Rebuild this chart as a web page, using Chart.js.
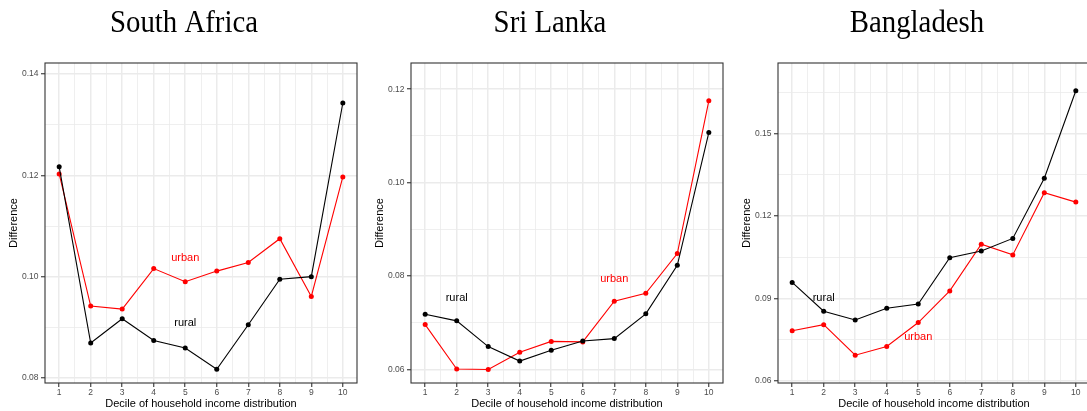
<!DOCTYPE html>
<html>
<head>
<meta charset="utf-8">
<title>Difference by decile of household income distribution</title>
<script src="https://cdn.jsdelivr.net/npm/chart.js@4.4.1/dist/chart.umd.min.js"></script>
<style>
  html, body { margin: 0; padding: 0; background: #fff; }
  body { width: 1087px; height: 411px; overflow: hidden; position: relative; }
  canvas { position: absolute; top: 0; }
</style>
</head>
<body>
<canvas id="southAfricaChart" width="361" height="411" style="left:0px"></canvas>
<canvas id="sriLankaChart" width="361" height="411" style="left:366px"></canvas>
<canvas id="bangladeshChart" width="361" height="411" style="left:733px"></canvas>
<script>
'use strict';

// deciles (x axis tick labels)
const deciles = [1, 2, 3, 4, 5, 6, 7, 8, 9, 10];

// South Africa
const saRural = [0.1217, 0.0869, 0.0917, 0.0874, 0.0859, 0.0817, 0.0905, 0.0995, 0.1000, 0.1343];
const saUrban = [0.1203, 0.0942, 0.0936, 0.1016, 0.0990, 0.1011, 0.1028, 0.1075, 0.0961, 0.1197];

// Sri Lanka
const slRural = [0.0718, 0.0704, 0.0649, 0.0618, 0.0641, 0.0661, 0.0666, 0.0719, 0.0823, 0.1107];
const slUrban = [0.0696, 0.0601, 0.0600, 0.0637, 0.0660, 0.0659, 0.0746, 0.0763, 0.0848, 0.1175];

// Bangladesh
const bdRural = [0.0958, 0.0853, 0.0821, 0.0864, 0.0879, 0.1048, 0.1072, 0.1118, 0.1337, 0.1655];
const bdUrban = [0.0782, 0.0804, 0.0693, 0.0725, 0.0812, 0.0927, 0.1097, 0.1058, 0.1284, 0.1250];

Chart.defaults.font.family = '"Liberation Sans", Arial, Helvetica, sans-serif';
Chart.defaults.animation = false;

function isStep(v, step) {
  const r = v / step;
  return Math.abs(r - Math.round(r)) < 1e-6;
}

// panel border, text labels and the serif title
const panelDecor = {
  id: 'panelDecor',
  afterDatasetsDraw(chart, args, opts) {
    const ctx = chart.ctx, area = chart.chartArea;
    const xs = chart.scales.x, ys = chart.scales.y;
    ctx.save();
    ctx.strokeStyle = '#333333';
    ctx.lineWidth = 1.1;
    ctx.strokeRect(area.left, area.top, area.right - area.left, area.bottom - area.top);

    ctx.font = '11px "Liberation Sans", Arial, sans-serif';
    ctx.textAlign = 'center';
    ctx.textBaseline = 'middle';
    opts.notes.forEach(function(n) {
      ctx.fillStyle = n.color;
      ctx.fillText(n.text, xs.getPixelForValue(n.x), ys.getPixelForValue(n.y));
    });

    ctx.font = '32px "Liberation Serif", "Times New Roman", serif';
    ctx.fillStyle = '#000';
    ctx.textBaseline = 'alphabetic';
    ctx.translate((area.left + area.right) / 2 - 17, 31.5);
    ctx.scale(0.9, 1);
    ctx.fillText(opts.title, 0, 0);
    ctx.restore();
  }
};

function drawPanel(id, title, rural, urban, yMin, yMax, yMajor, notes) {
  new Chart(document.getElementById(id), {
    type: 'line',
    data: {
      datasets: [
        {
          label: 'rural',
          data: deciles.map(function(d, i) { return { x: d, y: rural[i] }; }),
          borderColor: '#000000',
          backgroundColor: '#000000',
          borderWidth: 1.1,
          pointRadius: 2.5,
          pointBorderWidth: 0,
          tension: 0
        },
        {
          label: 'urban',
          data: deciles.map(function(d, i) { return { x: d, y: urban[i] }; }),
          borderColor: '#ff0000',
          backgroundColor: '#ff0000',
          borderWidth: 1.1,
          pointRadius: 2.5,
          pointBorderWidth: 0,
          tension: 0
        }
      ]
    },
    options: {
      responsive: false,
      layout: { padding: { top: 63, right: 4, bottom: 0, left: 0 } },
      plugins: {
        legend: { display: false },
        tooltip: { enabled: false },
        panelDecor: { title: title, notes: notes }
      },
      scales: {
        x: {
          type: 'linear',
          min: 0.55,
          max: 10.45,
          afterFit: function(scale) { scale.height = 28; },
          border: { display: false },
          grid: {
            color: '#ebebeb',
            lineWidth: function(c) { return isStep(c.tick.value, 1) ? 1.5 : 0.8; },
            tickColor: function(c) { return isStep(c.tick.value, 1) ? '#333333' : 'rgba(0,0,0,0)'; },
            tickWidth: 1.1,
            tickLength: 4
          },
          ticks: {
            stepSize: 0.5,
            includeBounds: false,
            autoSkip: false,
            maxRotation: 0,
            padding: 0.5,
            color: '#4d4d4d',
            font: { size: 8.5 },
            callback: function(v) { return deciles.indexOf(Math.round(v)) >= 0 && isStep(v, 1) ? String(Math.round(v)) : ''; }
          },
          title: {
            display: true,
            text: 'Decile of household income distribution',
            color: '#000',
            font: { size: 11 },
            padding: { top: 0, bottom: 0.4 }
          }
        },
        y: {
          min: yMin,
          max: yMax,
          afterFit: function(scale) { scale.width = 45; },
          border: { display: false },
          grid: {
            color: '#ebebeb',
            lineWidth: function(c) { return isStep(c.tick.value, yMajor) ? 1.5 : 0.8; },
            tickColor: function(c) { return isStep(c.tick.value, yMajor) ? '#333333' : 'rgba(0,0,0,0)'; },
            tickWidth: 1.1,
            tickLength: 4
          },
          ticks: {
            stepSize: yMajor / 2,
            includeBounds: false,
            autoSkip: false,
            padding: 2.5,
            color: '#4d4d4d',
            font: { size: 8.5 },
            callback: function(v) { return isStep(v, yMajor) ? v.toFixed(2) : ''; }
          },
          title: {
            display: true,
            text: 'Difference',
            color: '#000',
            font: { size: 11 },
            padding: { top: 7.4, bottom: 0 }
          }
        }
      }
    },
    plugins: [panelDecor]
  });
}

drawPanel('southAfricaChart', 'South Africa', saRural, saUrban, 0.079, 0.1422, 0.02, [
  { text: 'urban', x: 5, y: 0.1037, color: '#ff0000' },
  { text: 'rural', x: 5, y: 0.0908, color: '#000000' }
]);

drawPanel('sriLankaChart', 'Sri Lanka', slRural, slUrban, 0.0571, 0.1256, 0.02, [
  { text: 'rural', x: 2, y: 0.0752, color: '#000000' },
  { text: 'urban', x: 7, y: 0.0793, color: '#ff0000' }
]);

drawPanel('bangladeshChart', 'Bangladesh', bdRural, bdUrban, 0.0592, 0.1756, 0.03, [
  { text: 'rural', x: 2, y: 0.0900, color: '#000000' },
  { text: 'urban', x: 5, y: 0.0759, color: '#ff0000' }
]);
</script>
</body>
</html>
